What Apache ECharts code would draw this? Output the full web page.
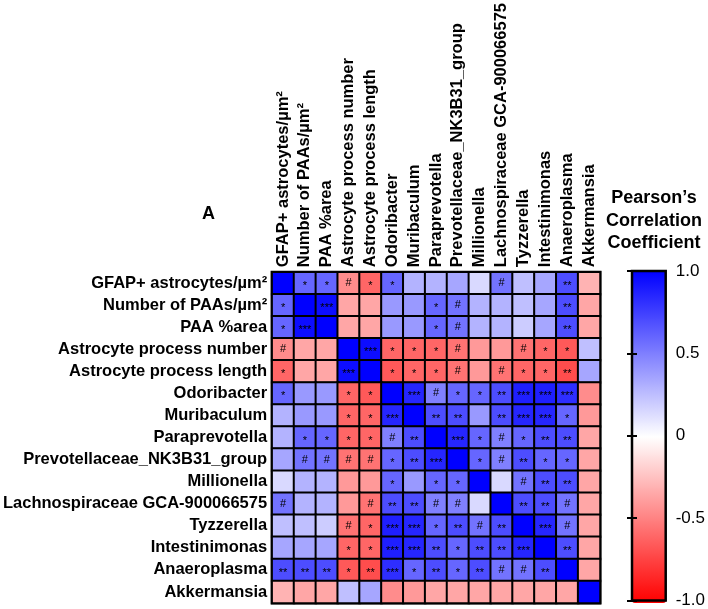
<!DOCTYPE html>
<html>
<head>
<meta charset="utf-8">
<script src="https://cdn.jsdelivr.net/npm/echarts@6/dist/echarts.min.js"></script>
<style>
html,body{margin:0;padding:0;background:#fff;}
#chart{width:708px;height:609px;}
</style>
</head>
<body>
<div id="chart"></div>
<script>
// Variables (rows top-to-bottom, columns left-to-right use the same order)
const labels = [
  'GFAP+ astrocytes/µm²',
  'Number of PAAs/µm²',
  'PAA %area',
  'Astrocyte process number',
  'Astrocyte process length',
  'Odoribacter',
  'Muribaculum',
  'Paraprevotella',
  'Prevotellaceae_NK3B31_group',
  'Millionella',
  'Lachnospiraceae GCA-900066575',
  'Tyzzerella',
  'Intestinimonas',
  'Anaeroplasma',
  'Akkermansia'
];

// Pearson correlation coefficients (estimated from colours), row by row
const rGFAP   = [1, 0.6, 0.6, -0.45, -0.6, 0.6, 0.3, 0.3, 0.35, 0.15, 0.55, 0.25, 0.35, 0.7, -0.3];
const rPAAn   = [0.6, 1, 0.95, -0.35, -0.35, 0.4, 0.4, 0.6, 0.55, 0.3, 0.3, 0.25, 0.35, 0.7, -0.35];
const rPAAa   = [0.6, 0.95, 1, -0.35, -0.35, 0.4, 0.4, 0.6, 0.55, 0.3, 0.3, 0.2, 0.35, 0.7, -0.35];
const rAPN    = [-0.45, -0.35, -0.35, 1, 0.95, -0.6, -0.6, -0.6, -0.55, -0.4, -0.4, -0.55, -0.6, -0.65, 0.25];
const rAPL    = [-0.6, -0.35, -0.35, 0.95, 1, -0.65, -0.6, -0.6, -0.55, -0.4, -0.55, -0.6, -0.6, -0.7, 0.35];
const rOdor   = [0.6, 0.4, 0.4, -0.6, -0.65, 1, 0.85, 0.5, 0.6, 0.6, 0.7, 0.88, 0.88, 0.82, -0.45];
const rMuri   = [0.3, 0.4, 0.4, -0.6, -0.6, 0.85, 1, 0.7, 0.7, 0.4, 0.7, 0.85, 0.85, 0.6, -0.4];
const rPara   = [0.3, 0.6, 0.6, -0.6, -0.6, 0.5, 0.7, 1, 0.85, 0.6, 0.5, 0.6, 0.7, 0.7, -0.35];
const rPrev   = [0.35, 0.55, 0.55, -0.55, -0.55, 0.6, 0.7, 0.85, 1, 0.6, 0.5, 0.7, 0.6, 0.6, -0.35];
const rMill   = [0.15, 0.3, 0.3, -0.4, -0.4, 0.6, 0.4, 0.6, 0.6, 1, 0.15, 0.55, 0.7, 0.7, -0.35];
const rLach   = [0.55, 0.3, 0.3, -0.4, -0.55, 0.7, 0.7, 0.5, 0.5, 0.15, 1, 0.7, 0.7, 0.55, -0.35];
const rTyzz   = [0.25, 0.25, 0.2, -0.55, -0.6, 0.88, 0.85, 0.6, 0.7, 0.55, 0.7, 1, 0.85, 0.55, -0.35];
const rInte   = [0.35, 0.35, 0.35, -0.6, -0.6, 0.88, 0.85, 0.7, 0.6, 0.7, 0.7, 0.85, 1, 0.7, -0.35];
const rAnae   = [0.7, 0.7, 0.7, -0.65, -0.7, 0.82, 0.6, 0.7, 0.6, 0.7, 0.55, 0.55, 0.7, 1, -0.35];
const rAkke   = [-0.3, -0.35, -0.35, 0.25, 0.35, -0.45, -0.4, -0.35, -0.35, -0.35, -0.35, -0.35, -0.35, -0.35, 1];
const corr = [rGFAP, rPAAn, rPAAa, rAPN, rAPL, rOdor, rMuri, rPara, rPrev, rMill, rLach, rTyzz, rInte, rAnae, rAkke];

// Significance marks
const sGFAP = ['', '*', '*', '#', '*', '*', '', '', '', '', '#', '', '', '**', ''];
const sPAAn = ['*', '', '***', '', '', '', '', '*', '#', '', '', '', '', '**', ''];
const sPAAa = ['*', '***', '', '', '', '', '', '*', '#', '', '', '', '', '**', ''];
const sAPN  = ['#', '', '', '', '***', '*', '*', '*', '#', '', '', '#', '*', '*', ''];
const sAPL  = ['*', '', '', '***', '', '*', '*', '*', '#', '', '#', '*', '*', '**', ''];
const sOdor = ['*', '', '', '*', '*', '', '***', '#', '*', '*', '**', '***', '***', '***', ''];
const sMuri = ['', '', '', '*', '*', '***', '', '**', '**', '', '**', '***', '***', '*', ''];
const sPara = ['', '*', '*', '*', '*', '#', '**', '', '***', '*', '#', '*', '**', '**', ''];
const sPrev = ['', '#', '#', '#', '#', '*', '**', '***', '', '*', '#', '**', '*', '*', ''];
const sMill = ['', '', '', '', '', '*', '', '*', '*', '', '', '#', '**', '**', ''];
const sLach = ['#', '', '', '', '#', '**', '**', '#', '#', '', '', '**', '**', '#', ''];
const sTyzz = ['', '', '', '#', '*', '***', '***', '*', '**', '#', '**', '', '***', '#', ''];
const sInte = ['', '', '', '*', '*', '***', '***', '**', '*', '**', '**', '***', '', '**', ''];
const sAnae = ['**', '**', '**', '*', '**', '***', '*', '**', '*', '**', '#', '#', '**', '', ''];
const sAkke = ['', '', '', '', '', '', '', '', '', '', '', '', '', '', ''];
const sig = [sGFAP, sPAAn, sPAAa, sAPN, sAPL, sOdor, sMuri, sPara, sPrev, sMill, sLach, sTyzz, sInte, sAnae, sAkke];

// Colour scale ticks
const cbTicks = [-1, -0.5, 0, 0.5, 1];
const cbTickLabels = ['-1.0', '-0.5', '0', '0.5', '1.0'];

const FONT = "'Liberation Sans', Arial, Helvetica, sans-serif";

const data = [];
for (let y = 0; y < corr.length; y++) {
  for (let x = 0; x < corr[y].length; x++) {
    data.push([x, y, corr[y][x]]);
  }
}

const chart = echarts.init(document.getElementById('chart'), null, {renderer: 'canvas'});
chart.setOption({
  backgroundColor: '#ffffff',
  animation: false,
  textStyle: {fontFamily: FONT},
  graphic: [
    {
      type: 'text', left: 202, top: 205,
      style: {text: 'A', font: 'bold 18px ' + FONT, fill: '#000'}
    },
    {
      type: 'text', x: 654, y: 187,
      style: {
        text: 'Pearson\u2019s\nCorrelation\nCoefficient',
        font: 'bold 18px ' + FONT, fill: '#000',
        align: 'center', verticalAlign: 'top', lineHeight: 22.5
      }
    }
  ],
  grid: [
    {left: 270, top: 271, width: 330, height: 332, show: true, borderColor: '#000', borderWidth: 3, backgroundColor: 'transparent'},
    {left: 632, top: 271, width: 34, height: 332, show: true, borderColor: '#000', borderWidth: 2.5, backgroundColor: 'transparent', z: 10}
  ],
  xAxis: [
    {
      gridIndex: 0, type: 'category', data: labels, position: 'top',
      axisLine: {show: false}, axisTick: {show: false}, splitLine: {show: false},
      axisLabel: {rotate: -90, interval: 0, margin: 5, color: '#000', fontWeight: 'bold', fontSize: 16.5, fontFamily: FONT}
    },
    {gridIndex: 1, type: 'value', show: false, min: 0, max: 1}
  ],
  yAxis: [
    {
      gridIndex: 0, type: 'category', data: labels, inverse: true,
      axisLine: {show: false}, axisTick: {show: false}, splitLine: {show: false},
      axisLabel: {interval: 0, margin: 5, color: '#000', fontWeight: 'bold', fontSize: 16.5, fontFamily: FONT}
    },
    {
      gridIndex: 1, type: 'value', min: cbTicks[0], max: cbTicks[cbTicks.length - 1], interval: 0.5, position: 'right',
      axisLine: {show: false}, splitLine: {show: false},
      axisTick: {show: true, inside: true, length: 5, lineStyle: {color: '#000', width: 2}},
      axisLabel: {
        margin: 10, color: '#000', fontSize: 17, fontFamily: FONT,
        formatter: v => { const i = cbTicks.indexOf(v); return i >= 0 ? cbTickLabels[i] : ''; }
      },
      z: 10
    },
    {
      gridIndex: 1, type: 'value', min: cbTicks[0], max: cbTicks[cbTicks.length - 1], interval: 0.5, position: 'left',
      axisLine: {show: false}, splitLine: {show: false},
      axisTick: {show: true, inside: true, length: 5, lineStyle: {color: '#000', width: 2}},
      axisLabel: {show: false},
      z: 10
    }
  ],
  visualMap: {
    type: 'continuous', min: -1, max: 1, seriesIndex: 0,
    calculable: false, realtime: false, hoverLink: false,
    orient: 'vertical', left: 632, top: 271, padding: 0,
    itemWidth: 34, itemHeight: 332,
    text: null, showLabel: false,
    inRange: {color: ['#ff0000', '#ffffff', '#0000ff']}
  },
  series: [
    {
      type: 'heatmap', xAxisIndex: 0, yAxisIndex: 0, data: data,
      itemStyle: {borderColor: '#000', borderWidth: 2},
      emphasis: {disabled: true},
      label: {
        show: true,
        formatter: p => {
          const s = sig[p.value[1]][p.value[0]];
          if (!s) return '';
          return s === '#' ? '{h|#}' : '{s|' + s + '}';
        },
        rich: {
          s: {fontSize: 11, color: '#000', fontFamily: FONT, padding: [6, 0, 0, 0]},
          h: {fontSize: 11, color: '#000', fontFamily: FONT}
        }
      }
    }
  ]
});
</script>
</body>
</html>
